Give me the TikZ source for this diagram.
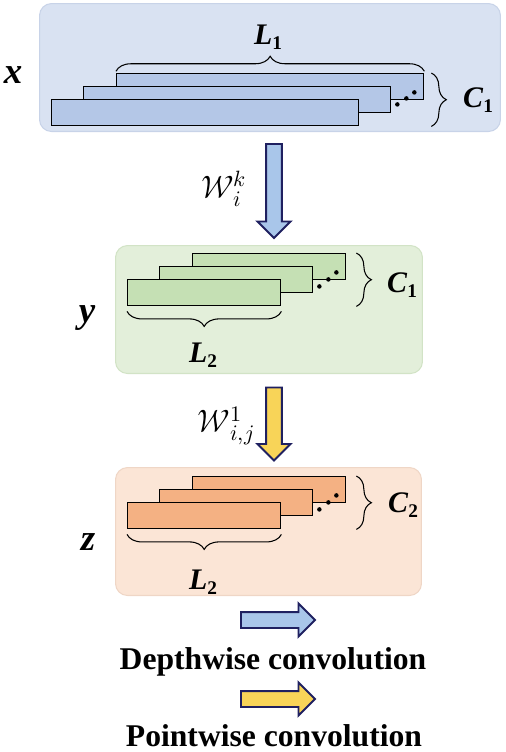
\documentclass[tikz,border=0pt]{standalone}
\usepackage{fontspec}
\usepackage{unicode-math}
\setmainfont{Liberation Serif}
\setmathfont{Latin Modern Math}
\usetikzlibrary{shapes.arrows,decorations.pathreplacing}

\definecolor{panelblue}{HTML}{D9E2F2}
\definecolor{edgeblue}{HTML}{C8D3E8}
\definecolor{barblue}{HTML}{B4C7E7}
\definecolor{panelgreen}{HTML}{E3EFDA}
\definecolor{edgegreen}{HTML}{D2E3C6}
\definecolor{bargreen}{HTML}{C5E0B4}
\definecolor{panelorange}{HTML}{FBE5D6}
\definecolor{edgeorange}{HTML}{EFD6C6}
\definecolor{barorange}{HTML}{F4B183}
\definecolor{arrowblue}{HTML}{A9C6EA}
\definecolor{arrowyellow}{HTML}{F8D458}
\definecolor{navy}{HTML}{1F2060}

\newcommand{\vsym}[2]{\textbf{\textit{#1}}\raisebox{-0.4ex}{\fontsize{11}{11}\selectfont\textbf{#2}}}

\begin{document}
\begin{tikzpicture}[x=0.02cm,y=-0.02cm,
  panel/.style={rounded corners=0.24cm, line width=0.6pt, anchor=north west, minimum height=2.56cm, inner sep=0pt},
  bar/.style={draw, line width=0.8pt, anchor=north west, minimum height=0.52cm, inner sep=0pt},
  brace/.style={decorate, decoration={brace, amplitude=0.3cm}, line width=0.6pt},
  sym/.style={font=\fontsize{17}{20}\selectfont},
  var/.style={font=\fontsize{21}{24}\selectfont\bfseries\itshape},
  wlab/.style={font=\fontsize{18}{22}\selectfont},
  blockarrow/.style={single arrow, draw=navy, line width=1.1pt, inner xsep=0pt, inner ysep=0.14cm, single arrow head extend=0.17cm},
  legend/.style={font=\fontsize{18}{22}\selectfont\bfseries}]
\useasboundingbox (0,0) rectangle (505,752);

% panels
\node[panel, fill=panelblue, draw=edgeblue, minimum width=9.22cm] (xpanel) at (39,3) {};
\node[panel, fill=panelgreen, draw=edgegreen, minimum width=6.14cm] (ypanel) at (115,245) {};
\node[panel, fill=panelorange, draw=edgeorange, minimum width=6.12cm] (zpanel) at (115,467) {};

% feature maps
\node[bar, fill=barblue, minimum width=6.14cm] (x3) at (116,73) {};
\node[bar, fill=barblue, minimum width=6.14cm] (x2) at (83,86) {};
\node[bar, fill=barblue, minimum width=6.14cm] (x1) at (51,99) {};

\node[bar, fill=bargreen, minimum width=3.06cm] (y3) at (192,253) {};
\node[bar, fill=bargreen, minimum width=3.06cm] (y2) at (159,266) {};
\node[bar, fill=bargreen, minimum width=3.06cm] (y1) at (127,279) {};

\node[bar, fill=barorange, minimum width=3.06cm] (z3) at (192,476) {};
\node[bar, fill=barorange, minimum width=3.06cm] (z2) at (159,489) {};
\node[bar, fill=barorange, minimum width=3.06cm] (z1) at (127,502) {};

\fill (x3.south east) ++(-10,-8) circle (0.045cm);
\fill (x3.south east) ++(-18,-2) circle (0.045cm);
\fill (x3.south east) ++(-27,4) circle (0.045cm);
\fill (y3.south east) ++(-10,-8) circle (0.045cm);
\fill (y3.south east) ++(-18,-1) circle (0.045cm);
\fill (y3.south east) ++(-27,6) circle (0.045cm);
\fill (z3.south east) ++(-10,-8) circle (0.045cm);
\fill (z3.south east) ++(-18,-1) circle (0.045cm);
\fill (z3.south east) ++(-27,6) circle (0.045cm);

% braces
\draw[brace] ([yshift=1pt]x3.north west) -- ([yshift=1pt]x3.north east);
\draw[brace] ([xshift=0.14cm]x3.north east) -- ([xshift=0.14cm]x3.north east |- x1.south);
\draw[brace] ([xshift=0.2cm]y3.north east) -- ([xshift=0.2cm]y3.north east |- y1.south);
\draw[brace] ([yshift=-0.1cm]y1.south east) -- ([yshift=-0.1cm]y1.south west);
\draw[brace] ([xshift=0.2cm]z3.north east) -- ([xshift=0.2cm]z3.north east |- z1.south);
\draw[brace] ([yshift=-0.1cm]z1.south east) -- ([yshift=-0.1cm]z1.south west);

% labels
\node[var] (xlab) at (13,75) {x};
\node[var] (ylab) at (87,318) {y};
\node[var] (zlab) at (88,542) {z};
\node[sym] (L1) at (268,37) {\vsym{L}{1}};
\node[sym] (C1x) at (478,100) {\vsym{C}{1}};
\node[sym] (C1y) at (402,285) {\vsym{C}{1}};
\node[sym] (L2y) at (203,355) {\vsym{L}{2}};
\node[sym] (C2z) at (403,505) {\vsym{C}{2}};
\node[sym] (L2z) at (203,582) {\vsym{L}{2}};

% convolution arrows
\node[blockarrow, fill=arrowblue, minimum height=1.88cm, rotate=-90] (dw) at (274,187) {};
\node[blockarrow, fill=arrowyellow, minimum height=1.46cm, rotate=-90] (pw) at (274,420) {};
\node[wlab] (wk) at (224,189) {$\mathcal{W}_i^k$};
\node[wlab] (w1) at (226,426) {$\mathcal{W}_{i,j}^1$};

% legend
\node[blockarrow, fill=arrowblue, minimum height=1.48cm] (dwkey) at (274,620) {};
\node[legend] (dwtext) at (273,662) {Depthwise convolution};
\node[blockarrow, fill=arrowyellow, minimum height=1.48cm] (pwkey) at (274,699) {};
\node[legend] (pwtext) at (274,736) {Pointwise convolution};

\end{tikzpicture}
\end{document}
